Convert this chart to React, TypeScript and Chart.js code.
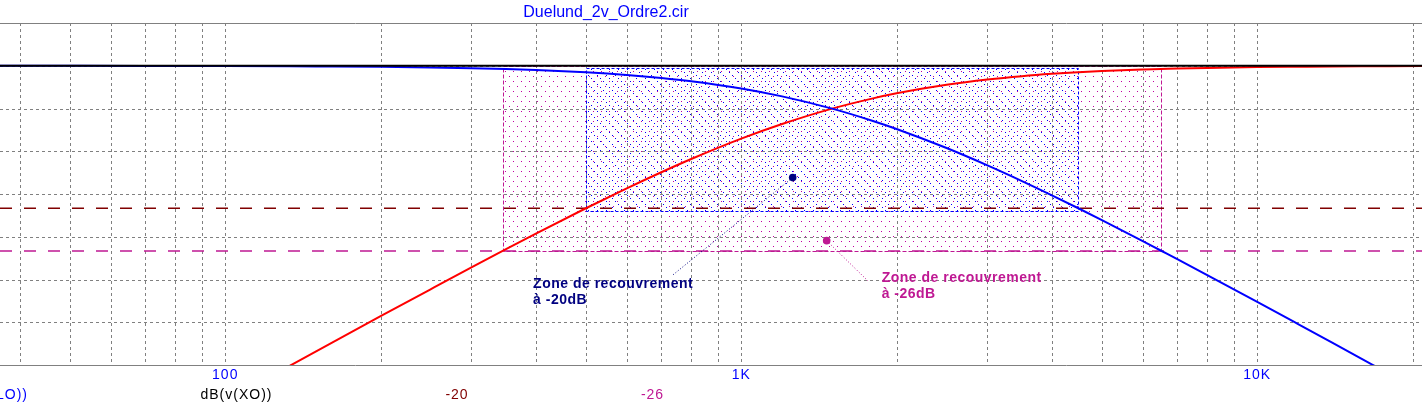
import React, { useEffect, useRef } from "react";
import { Chart, registerables } from "chart.js";
Chart.register(...registerables);

// ---- Data ----
const freqs = [36.6, 50, 70, 100, 133, 150, 200, 250, 300, 350, 400, 500, 600, 700, 800, 1000, 1200, 1500, 1800, 2000, 2500, 3000, 3500, 4000, 4500, 5000, 6000, 6500, 7000, 8000, 10000, 12000, 14000, 16500, 18000, 20860];
const loDb = [0.0, -0.01, -0.02, -0.04, -0.07, -0.09, -0.15, -0.24, -0.34, -0.46, -0.6, -0.92, -1.29, -1.71, -2.17, -3.19, -4.3, -6.02, -7.75, -8.87, -11.55, -13.98, -16.18, -18.18, -20.0, -21.66, -24.61, -25.93, -27.15, -29.38, -33.15, -36.26, -38.9, -41.73, -43.23, -45.89];
const hiDb = [-64.8, -59.1, -53.26, -47.08, -42.16, -40.09, -35.15, -31.37, -28.3, -25.74, -23.56, -20.0, -17.21, -14.95, -13.09, -10.23, -8.18, -6.02, -4.58, -3.87, -2.68, -1.94, -1.46, -1.14, -0.92, -0.74, -0.53, -0.46, -0.39, -0.3, -0.19, -0.14, -0.1, -0.07, -0.06, -0.05];
const xoFreqs = [36.6, 20860];
const xoDb = [0, 0];
const refFreqs = [36.6, 20860];
const ref20Db = [-20, -20];
const ref26Db = [-26, -26];

const zone20Freqs = [500, 4500];
const zone20Db = [-0.3, -20.3];
const zone26Freqs = [345, 6490];
const zone26Db = [0, -26];

const note20Dot = [1258, -15.7];
const note20End = [733, -29.5];
const note20Text = [395, -30.6];
const note20Lines = ["Zone de recouvrement", "à -20dB"];
const note26Dot = [1464, -24.55];
const note26End = [1760, -30.2];
const note26Text = [1871, -29.8];
const note26Lines = ["Zone de recouvrement", "à -26dB"];

const xRange = [36.6, 20860];
const yRange = [-42, 6];
const xGridFreqs = [40, 50, 60, 70, 80, 90, 100, 200, 300, 400, 500, 600, 700, 800, 900, 1000, 2000, 3000, 4000, 5000, 6000, 7000, 8000, 9000, 10000, 20000];
const yGridDb = [6, 0, -6, -12, -18, -24, -30, -36, -42];
const xTickVals = [100, 1000, 10000];
const xTickLabels = ["100", "1K", "10K"];
const title = "Duelund_2v_Ordre2.cir";

const BLUE = "#0000FF";
const RED = "#FF0000";
const NAVY = "#000080";
const DARKRED = "#800000";
const MAGENTA = "#BF1893";
const DOTMAG = "#C000A0";
const GRID = "#808080";
const FONT = '"Liberation Sans", Arial, sans-serif';

const pts = (xs: number[], ys: number[]) => xs.map((x, i) => ({ x, y: ys[i] }));

function makePattern(ctx: CanvasRenderingContext2D, w: number, h: number, color: string, dots: number[][]) {
  const c = document.createElement("canvas");
  c.width = w;
  c.height = h;
  const g = c.getContext("2d")!;
  g.fillStyle = color;
  dots.forEach(([x, y]) => g.fillRect(x, y, 1, 1));
  return ctx.createPattern(c, "repeat")!;
}

const backPlugin = {
  id: "back",
  beforeDatasetsDraw(chart: any) {
    const { ctx, chartArea, scales } = chart;
    const xs = scales.x;
    const ys = scales.y;
    ctx.save();
    // zone fills
    const magPat = makePattern(ctx, 8, 10, DOTMAG, [[1, 1], [5, 6]]);
    const bluePat = makePattern(ctx, 9, 9, BLUE, [[0, 0], [3, 3], [6, 6]]);
    const r26 = [xs.getPixelForValue(zone26Freqs[0]), ys.getPixelForValue(zone26Db[0]), xs.getPixelForValue(zone26Freqs[1]), ys.getPixelForValue(zone26Db[1])];
    const r20 = [xs.getPixelForValue(zone20Freqs[0]), ys.getPixelForValue(zone20Db[0]), xs.getPixelForValue(zone20Freqs[1]), ys.getPixelForValue(zone20Db[1])];
    ctx.fillStyle = magPat;
    ctx.fillRect(Math.round(r26[0]), Math.round(r26[1]), Math.round(r26[2] - r26[0]), Math.round(r26[3] - r26[1]));
    ctx.fillStyle = bluePat;
    ctx.fillRect(Math.round(r20[0]), Math.round(r20[1]), Math.round(r20[2] - r20[0]), Math.round(r20[3] - r20[1]));

    // grid
    ctx.lineWidth = 1;
    ctx.strokeStyle = GRID;
    ctx.setLineDash([3, 3]);
    xGridFreqs.forEach((f) => {
      const x = Math.round(xs.getPixelForValue(f)) + 0.5;
      ctx.beginPath();
      ctx.moveTo(x, chartArea.top);
      ctx.lineTo(x, chartArea.bottom);
      ctx.stroke();
    });
    yGridDb.forEach((d, i) => {
      const y = Math.round(ys.getPixelForValue(d)) + 0.5;
      ctx.setLineDash(i === 0 || i === yGridDb.length - 1 ? [] : [3, 3]);
      ctx.beginPath();
      ctx.moveTo(0, y);
      ctx.lineTo(chart.width, y);
      ctx.stroke();
    });

    // zone outlines
    const rect = (r: number[], color: string, dash: number[]) => {
      ctx.strokeStyle = color;
      ctx.setLineDash(dash);
      ctx.strokeRect(Math.round(r[0]) + 0.5, Math.round(r[1]) + 0.5, Math.round(r[2] - r[0]), Math.round(r[3] - r[1]));
    };
    rect(r26, MAGENTA, [4, 2]);
    rect(r20, BLUE, [3, 2]);
    ctx.restore();
  },
  afterDatasetsDraw(chart: any) {
    const { ctx, scales } = chart;
    const xs = scales.x;
    const ys = scales.y;
    ctx.save();
    const note = (dot: number[], end: number[], txt: number[], lines: string[], color: string) => {
      const dx = xs.getPixelForValue(dot[0]);
      const dy = ys.getPixelForValue(dot[1]);
      const ex = xs.getPixelForValue(end[0]);
      const ey = ys.getPixelForValue(end[1]);
      ctx.strokeStyle = color;
      ctx.lineWidth = 1;
      ctx.setLineDash([1, 2]);
      ctx.beginPath();
      ctx.moveTo(dx, dy);
      ctx.lineTo(ex, ey);
      ctx.stroke();
      ctx.setLineDash([]);
      ctx.fillStyle = color;
      ctx.beginPath();
      ctx.arc(dx, dy, 3.8, 0, Math.PI * 2);
      ctx.fill();
      const tx = xs.getPixelForValue(txt[0]);
      const ty = ys.getPixelForValue(txt[1]);
      ctx.font = "bold 14px " + FONT;
      (ctx as any).letterSpacing = "0.5px";
      ctx.textAlign = "left";
      ctx.textBaseline = "middle";
      lines.forEach((l, i) => ctx.fillText(l, tx, ty + i * 16.5));
    };
    note(note20Dot, note20End, note20Text, note20Lines, NAVY);
    note(note26Dot, note26End, note26Text, note26Lines, MAGENTA);

    // title
    (ctx as any).letterSpacing = "0px";
    ctx.font = "16px " + FONT;
    ctx.fillStyle = BLUE;
    ctx.textAlign = "center";
    ctx.textBaseline = "middle";
    ctx.fillText(title, 606, 13);

    // x tick labels
    ctx.font = "14px " + FONT;
    (ctx as any).letterSpacing = "1px";
    xTickVals.forEach((v, i) => {
      ctx.fillText(xTickLabels[i], xs.getPixelForValue(v), 375.5);
    });
    // trace labels
    ctx.textAlign = "right";
    ctx.fillStyle = BLUE;
    ctx.fillText("dB(v(LO))", 28, 395.5);
    ctx.textAlign = "center";
    ctx.fillStyle = "#000000";
    ctx.fillText("dB(v(XO))", 236.5, 395.5);
    ctx.fillStyle = DARKRED;
    ctx.fillText("-20", 457, 395.5);
    ctx.fillStyle = MAGENTA;
    ctx.fillText("-26", 652.5, 395.5);
    ctx.restore();
  },
};

export default function App() {
  const ref = useRef<HTMLCanvasElement>(null);
  useEffect(() => {
    const chart = new Chart(ref.current!, {
      type: "line",
      data: {
        datasets: [
          { data: pts(xoFreqs, xoDb), borderColor: "#000000", borderWidth: 2, pointRadius: 0 },
          { data: pts(freqs, loDb), borderColor: BLUE, borderWidth: 2, pointRadius: 0, cubicInterpolationMode: "monotone" },
          { data: pts(freqs, hiDb), borderColor: RED, borderWidth: 2, pointRadius: 0, cubicInterpolationMode: "monotone" },
          { data: pts(refFreqs, ref20Db), borderColor: DARKRED, borderWidth: 1.5, borderDash: [12, 12], pointRadius: 0 },
          { data: pts(refFreqs, ref26Db), borderColor: MAGENTA, borderWidth: 1.5, borderDash: [12, 12], pointRadius: 0 },
        ] as any,
      },
      options: {
        responsive: false,
        maintainAspectRatio: false,
        animation: false,
        layout: { padding: { top: 23, bottom: 39, left: 0, right: 0 } },
        plugins: { legend: { display: false }, tooltip: { enabled: false }, title: { display: false } },
        scales: {
          x: { type: "logarithmic", min: xRange[0], max: xRange[1], display: false },
          y: { type: "linear", min: yRange[0], max: yRange[1], display: false },
        },
      },
      plugins: [backPlugin],
    });
    return () => chart.destroy();
  }, []);
  return (
    <div style={{ position: "absolute", left: 0, top: 0, width: 1422, height: 404, background: "#fff" }}>
      <canvas ref={ref} width={1422} height={404} style={{ display: "block" }} />
    </div>
  );
}
